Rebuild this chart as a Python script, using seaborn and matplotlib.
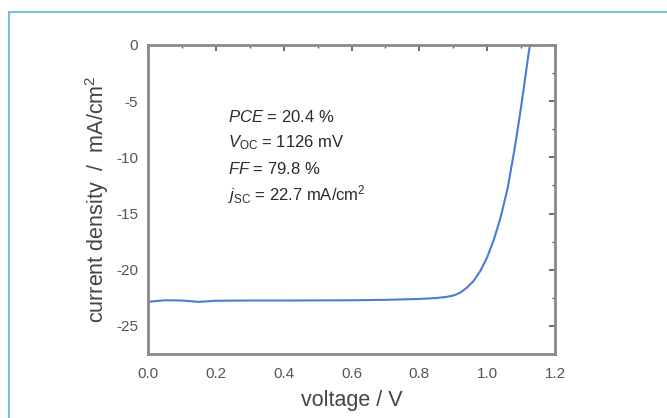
import matplotlib
matplotlib.use("Agg")
import matplotlib.pyplot as plt
import seaborn as sns
import pandas as pd
from matplotlib.ticker import MultipleLocator
from matplotlib.patches import Rectangle

voltage = [0.0, 0.05, 0.1, 0.15, 0.2, 0.3, 0.4, 0.5, 0.6, 0.7, 0.8, 0.85, 0.88,
           0.9, 0.92, 0.94, 0.96, 0.98, 1.0, 1.02, 1.04, 1.06, 1.08, 1.09, 1.10,
           1.11, 1.12, 1.126, 1.13]
current = [-22.85, -22.72, -22.74, -22.86, -22.76, -22.74, -22.74, -22.73, -22.72,
           -22.68, -22.6, -22.52, -22.42, -22.3, -22.05, -21.6, -21.0, -20.1,
           -18.9, -17.3, -15.3, -12.8, -9.4, -7.5, -5.5, -3.4, -1.2, 0.0, 0.6]

annot_lines = [r"$\it{PCE}$ = 20.4 %", r"$V_\mathrm{OC}$ = 1126 mV",
               r"$\it{FF}$ = 79.8 %", r"$j_\mathrm{SC}$ = 22.7 mA/cm$^2$"]

sns.set_theme(style="white")
plt.rcParams['font.family'] = ['Liberation Sans', 'DejaVu Sans']
plt.rcParams['mathtext.fontset'] = 'custom'
plt.rcParams['mathtext.rm'] = 'Liberation Sans'
plt.rcParams['mathtext.it'] = 'Liberation Sans:italic'
plt.rcParams['mathtext.bf'] = 'Liberation Sans:bold'

df = pd.DataFrame({"voltage": voltage, "current": current})

fig = plt.figure(figsize=(6.67, 4.18), dpi=100)
fig.patches.append(Rectangle((9/667, -0.1), 1.2, 1 - 12/418 + 0.1, transform=fig.transFigure,
                             fill=False, edgecolor="#7fbbdd", linewidth=1.5))
ax = fig.add_axes([148/667, 1 - 354/418, (555-148)/667, (354-45)/418])
sns.lineplot(data=df, x="voltage", y="current", ax=ax, sort=False,
             color="#4a7bd6", linewidth=1.5)
ax.set_xlim(0, 1.2)
ax.set_ylim(-27.5, 0)
ax.xaxis.set_minor_locator(MultipleLocator(0.1))
ax.yaxis.set_minor_locator(MultipleLocator(2.5))
ax.set_xticks([0, 0.2, 0.4, 0.6, 0.8, 1.0, 1.2])
ax.set_xticklabels(["0.0", "0.2", "0.4", "0.6", "0.8", "1.0", "1.2"])
ax.set_yticks([0, -5, -10, -15, -20, -25])
ax.set_yticklabels(["0", "-5", "-10", "-15", "-20", "-25"])
ax.tick_params(which="both", direction="in", top=True, right=True,
               color="#555555", labelcolor="#555555", labelsize=11)
ax.tick_params(which="major", length=4, width=1.2)
ax.tick_params(which="minor", length=2.5, width=1.0)
ax.tick_params(axis="x", pad=9)
ax.tick_params(axis="y", pad=7)
for s in ax.spines.values():
    s.set_color("#8a8a8a")
    s.set_linewidth(2)
ax.set_xlabel("voltage / V", fontsize=15.5, color="#444444", labelpad=7)
ax.set_ylabel(r"current density  /  mA/cm$^2$", fontsize=15.5, color="#444444", labelpad=4)

for i, t in enumerate(annot_lines):
    ax.text(0.235, -6.4 - i * 2.3, t, fontsize=12, color="#2a2a2a", va="center", ha="left")

fig.savefig("out.png", dpi=100)
